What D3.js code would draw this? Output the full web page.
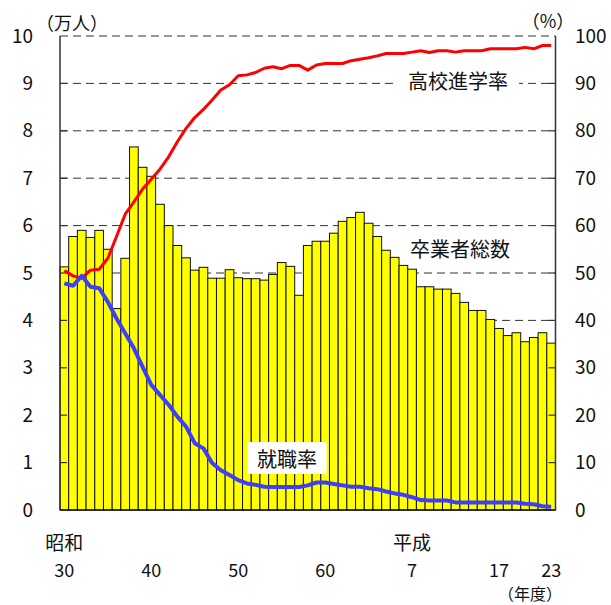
<!DOCTYPE html>
<html><head><meta charset="utf-8">
<script src="https://cdn.jsdelivr.net/npm/d3@7"></script>
<style>
html,body{margin:0;padding:0;background:#fff;}
svg{display:block;font-family:"Noto Sans CJK JP","Noto Sans",sans-serif;}
</style></head>
<body><svg id="c" width="611" height="605"></svg>
<script>
// 年度 (昭和30 〜 平成23)
const years = ["S30","S31","S32","S33","S34","S35","S36","S37","S38","S39",
  "S40","S41","S42","S43","S44","S45","S46","S47","S48","S49",
  "S50","S51","S52","S53","S54","S55","S56","S57","S58","S59",
  "S60","S61","S62","S63","H1","H2","H3","H4","H5","H6",
  "H7","H8","H9","H10","H11","H12","H13","H14","H15","H16",
  "H17","H18","H19","H20","H21","H22","H23"];
// 卒業者総数 (万人)
const graduates = [5.13,5.77,5.90,5.75,5.90,5.50,4.25,5.31,7.66,7.23,
  7.04,6.45,6.00,5.58,5.32,5.06,5.12,4.89,4.89,5.07,
  4.90,4.88,4.88,4.85,4.97,5.22,5.14,4.53,5.58,5.67,
  5.67,5.84,6.09,6.17,6.28,6.05,5.77,5.48,5.33,5.16,
  5.08,4.71,4.71,4.66,4.66,4.57,4.38,4.21,4.21,4.02,
  3.83,3.68,3.74,3.55,3.64,3.74,3.52];
// 高校進学率 (%)
const entranceRate = [50.5,49.4,48.9,50.6,50.8,53.1,57.7,62.4,65.0,67.7,
  69.8,71.9,74.5,77.7,80.5,82.8,84.5,86.5,88.6,89.7,
  91.6,91.8,92.3,93.2,93.5,93.1,93.8,93.8,92.8,93.9,
  94.2,94.2,94.2,94.8,95.1,95.4,95.8,96.3,96.3,96.3,
  96.6,96.9,96.5,96.9,96.9,96.6,96.9,96.9,96.9,97.3,
  97.3,97.3,97.3,97.6,97.3,98.0,98.0];
// 就職率 (%)
const employmentRate = [47.8,47.3,49.4,47.1,46.8,43.9,40.4,37.3,34.1,30.2,
  26.4,24.3,22.2,19.7,17.6,14.1,13.0,9.9,8.4,7.4,
  6.3,5.6,5.3,4.9,4.85,4.85,4.85,4.85,5.2,5.8,
  5.8,5.5,5.2,4.9,4.9,4.6,4.4,3.9,3.5,3.2,
  2.7,2.1,2.0,2.0,2.0,1.6,1.6,1.6,1.6,1.6,
  1.6,1.6,1.6,1.3,1.2,0.8,0.7];
// x tick labels
const xTickYears  = ["S30","S40","S50","S60","H7","H17","H23"];
const xTickLabels = ["30","40","50","60","7","17","23"];
const eraYears  = ["S30","H7"];
const eraLabels = ["昭和","平成"];
const leftTicks  = [0,1,2,3,4,5,6,7,8,9,10];
const rightTicks = [0,10,20,30,40,50,60,70,80,90,100];

const L=60, R=555.5, T=36, B=510;
const svg = d3.select("#c");
const x = d3.scaleBand().domain(years).range([L,R]).padding(0);
const yL = d3.scaleLinear().domain([0,10]).range([B,T]);
const yR = d3.scaleLinear().domain([0,100]).range([B,T]);

// gridlines
svg.append("g").selectAll("line").data(leftTicks.filter(d=>d>0)).join("line")
  .attr("x1",L).attr("x2",R).attr("y1",d=>yL(d)).attr("y2",d=>yL(d))
  .attr("stroke","#333").attr("stroke-width",1).attr("stroke-dasharray","8,5");

// bars
svg.append("g").selectAll("rect").data(graduates).join("rect")
  .attr("x",(d,i)=>x(years[i])).attr("width",x.bandwidth())
  .attr("y",d=>yL(d)).attr("height",d=>B-yL(d))
  .attr("fill","#ffff00").attr("stroke","#111").attr("stroke-width",1);

// inward ticks
svg.append("g").selectAll("line").data(leftTicks.filter(d=>d>0&&d<10)).join("line")
  .attr("x1",L).attr("x2",L+7).attr("y1",d=>yL(d)).attr("y2",d=>yL(d))
  .attr("stroke","#333").attr("stroke-width",1.2);
svg.append("g").selectAll("line").data(rightTicks.filter(d=>d>0&&d<100)).join("line")
  .attr("x1",R-7).attr("x2",R).attr("y1",d=>yR(d)).attr("y2",d=>yR(d))
  .attr("stroke","#333").attr("stroke-width",1.2);

// frame
svg.append("line").attr("x1",L).attr("x2",L).attr("y1",T).attr("y2",B).attr("stroke","#333").attr("stroke-width",1.5);
svg.append("line").attr("x1",R).attr("x2",R).attr("y1",T).attr("y2",B).attr("stroke","#333").attr("stroke-width",1.5);
svg.append("line").attr("x1",L).attr("x2",R).attr("y1",B).attr("y2",B).attr("stroke","#111").attr("stroke-width",1.5);

// series labels with white boxes
function label(txt, cx, cy, w, h){
  svg.append("rect").attr("x",cx-w/2).attr("y",cy-h/2).attr("width",w).attr("height",h).attr("fill","#fff");
  svg.append("text").attr("x",cx).attr("y",cy).attr("text-anchor","middle")
    .attr("dominant-baseline","central").attr("font-size",20).attr("fill","#111").text(txt);
}
label("高校進学率", 458, 80, 122, 26);
label("卒業者総数", 460, 248, 118, 26);
label("就職率", 287, 458, 79, 32);

// lines
const lineR = d3.line().x((d,i)=>x(years[i])+x.bandwidth()/2).y(d=>yR(d));
svg.append("path").datum(entranceRate).attr("d",lineR)
  .attr("fill","none").attr("stroke","#ff0000").attr("stroke-width",3).attr("stroke-linejoin","round");
svg.append("path").datum(employmentRate).attr("d",lineR)
  .attr("fill","none").attr("stroke","#3d3dff").attr("stroke-width",4).attr("stroke-linejoin","round");

// axes text
const axL = d3.axisLeft(yL).tickValues(leftTicks).tickSize(0).tickPadding(0);
const gL = svg.append("g").attr("transform",`translate(33,0)`).call(axL);
gL.select(".domain").remove();
gL.selectAll("text").attr("text-anchor","end").attr("font-size",19).attr("fill","#111")
  .attr("font-family","'Noto Sans CJK JP',sans-serif");
const axR = d3.axisRight(yR).tickValues(rightTicks).tickSize(0).tickPadding(0);
const gR = svg.append("g").attr("transform",`translate(575,0)`).call(axR);
gR.select(".domain").remove();
gR.selectAll("text").attr("text-anchor","start").attr("font-size",19).attr("fill","#111")
  .attr("font-family","'Noto Sans CJK JP',sans-serif");

// x labels
svg.append("g").selectAll("text").data(xTickYears).join("text")
  .attr("x",d=>x(d)+x.bandwidth()/2).attr("y",569).attr("text-anchor","middle")
  .attr("dominant-baseline","central").attr("font-size",18).attr("fill","#111")
  .text((d,i)=>xTickLabels[i]);
svg.append("g").selectAll("text").data(eraYears).join("text")
  .attr("x",d=>x(d)+x.bandwidth()/2).attr("y",541).attr("text-anchor","middle")
  .attr("dominant-baseline","central").attr("font-size",19).attr("fill","#111")
  .text((d,i)=>eraLabels[i]);

// unit labels
svg.append("text").attr("x",72).attr("y",22).attr("text-anchor","middle").attr("dominant-baseline","central")
  .attr("font-size",18).attr("fill","#111").text("（万人）");
svg.append("text").attr("x",548).attr("y",20).attr("text-anchor","middle").attr("dominant-baseline","central")
  .attr("font-size",18).attr("fill","#111").text("（%）");
svg.append("text").attr("x",530).attr("y",593).attr("text-anchor","middle").attr("dominant-baseline","central")
  .attr("font-size",16).attr("fill","#111").text("（年度）");
</script></body></html>
